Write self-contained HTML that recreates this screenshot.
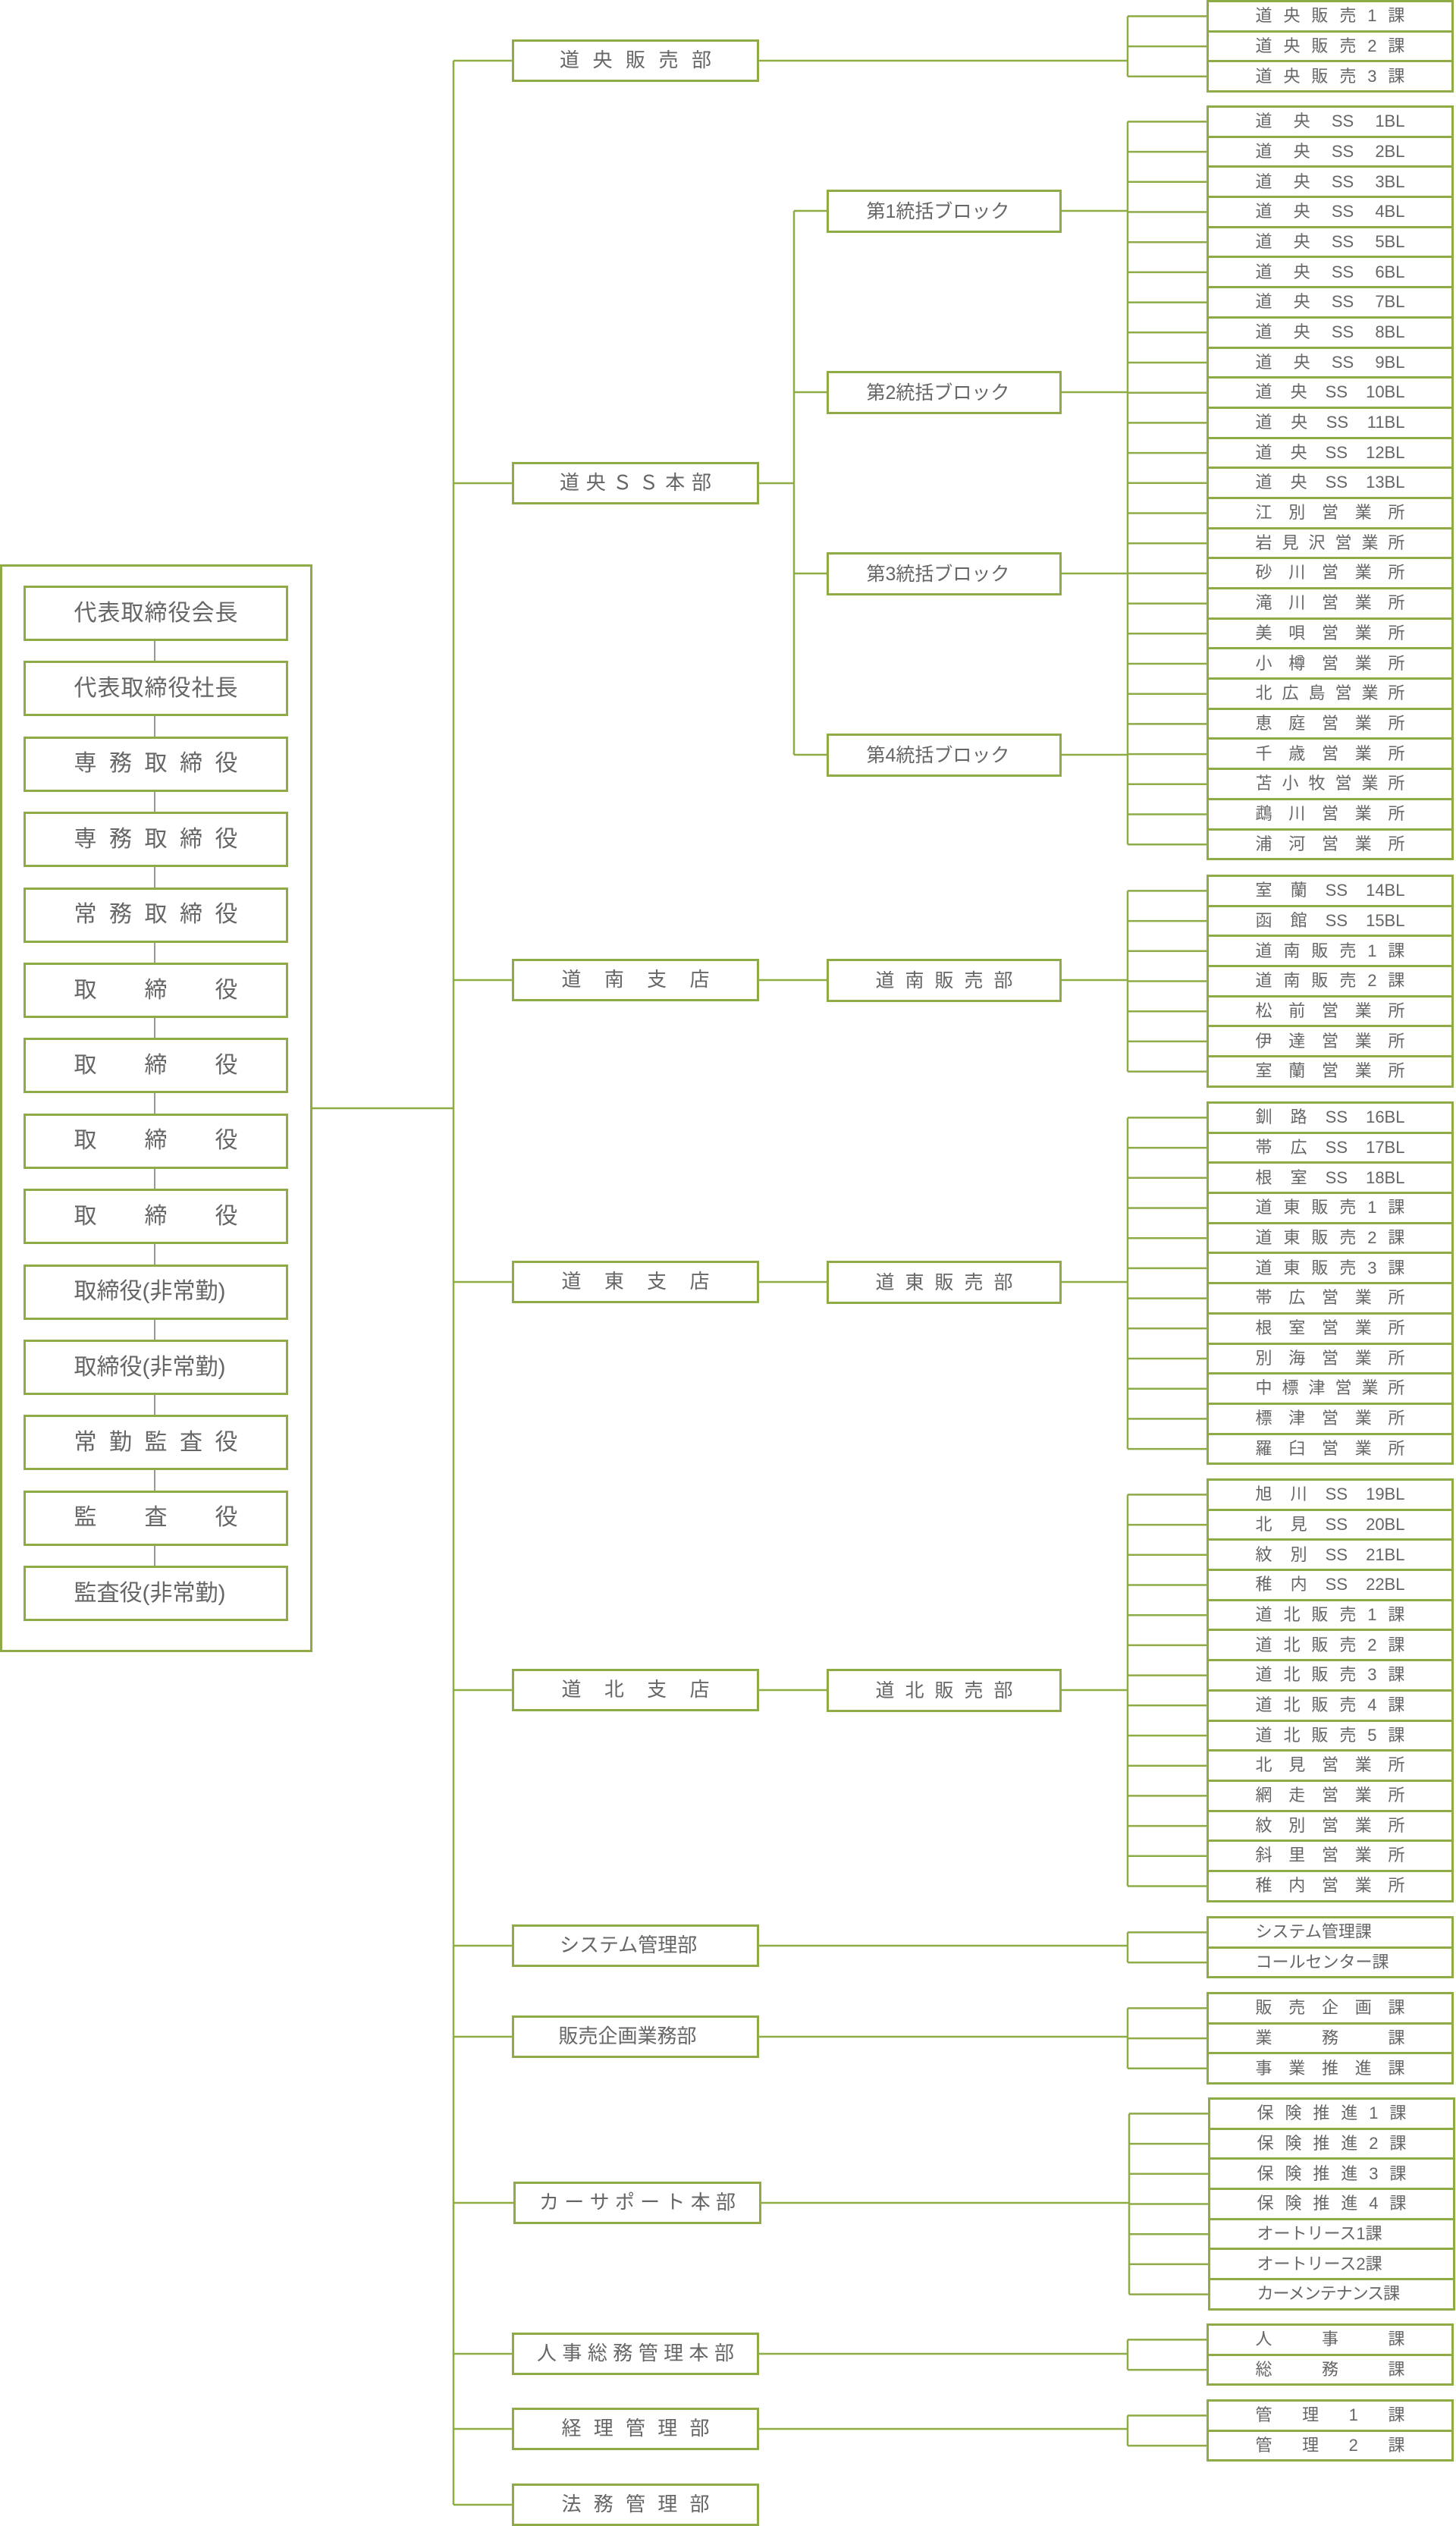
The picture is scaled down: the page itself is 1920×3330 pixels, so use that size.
<!DOCTYPE html>
<html><head><meta charset="utf-8"><style>
*{margin:0;padding:0;box-sizing:border-box}
html,body{width:1920px;height:3330px;background:#fff;overflow:hidden}
body{position:relative;font-family:"Liberation Sans","Noto Sans CJK JP",sans-serif;color:#666}
.b{position:absolute;border:3px solid #8eab46;background:#fff;display:flex;align-items:center;justify-content:center}
.t{display:flex;justify-content:space-between;align-items:baseline;white-space:nowrap;line-height:1.2}
.k{left:31px;width:349px;height:73px;font-size:30px}
.k .t{width:216px}
.l1{left:675px;width:326px;height:56px;font-size:26px}
.l2{left:1090px;width:310px;height:57px;font-size:25px}
.g{position:absolute;left:1591px;width:326px;font-size:22px}
.g>div{height:42.7px;border:3px solid #8eab46;background:#fff;display:flex;align-items:center;justify-content:center;margin-top:-3px}
.g>div:first-child{margin-top:0}
.g .t{width:197px}
svg{position:absolute;left:0;top:0}
</style></head><body>
<svg width="1920" height="3330">
<g stroke="#8eab46" stroke-width="2.5" fill="none">
<rect x="1.5" y="745.5" width="409" height="1431" stroke-width="3"/>
<path d="M598 80V3302M412 1461H598"/>
<path d="M598 80H675M598 637H675M598 1292H675M598 1690H675M598 2228H675M598 2565H675M598 2685H675M598 2904H677M598 3103H675M598 3202H675M598 3302H675"/>
<path d="M1001 637H1047M1047 278V995M1047 278H1090M1047 517H1090M1047 756H1090M1047 995H1090"/>
<path d="M1001 1292H1090M1001 1690H1090M1001 2228H1090"/>
<path d="M1400 278H1487M1400 517H1487M1400 756H1487M1400 995H1487"/>
<path d="M1001 80H1487M1487 21.4V100.8M1487 21.4H1591M1487 61.1H1591M1487 100.8H1591"/>
<path d="M1487 160.4V1113.2M1487 160.4H1591M1487 200.1H1591M1487 239.8H1591M1487 279.5H1591M1487 319.2H1591M1487 358.9H1591M1487 398.6H1591M1487 438.3H1591M1487 478H1591M1487 517.7H1591M1487 557.4H1591M1487 597.1H1591M1487 636.8H1591M1487 676.5H1591M1487 716.2H1591M1487 755.9H1591M1487 795.6H1591M1487 835.3H1591M1487 875H1591M1487 914.7H1591M1487 954.4H1591M1487 994.1H1591M1487 1033.8H1591M1487 1073.5H1591M1487 1113.2H1591"/>
<path d="M1400 1292H1487M1487 1174.4V1412.6M1487 1174.4H1591M1487 1214.1H1591M1487 1253.8H1591M1487 1293.5H1591M1487 1333.2H1591M1487 1372.9H1591M1487 1412.6H1591"/>
<path d="M1400 1690H1487M1487 1473.4V1910.1M1487 1473.4H1591M1487 1513.1H1591M1487 1552.8H1591M1487 1592.5H1591M1487 1632.2H1591M1487 1671.9H1591M1487 1711.6H1591M1487 1751.3H1591M1487 1791H1591M1487 1830.7H1591M1487 1870.4H1591M1487 1910.1H1591"/>
<path d="M1400 2228H1487M1487 1970.4V2486.5M1487 1970.4H1591M1487 2010.1H1591M1487 2049.8H1591M1487 2089.5H1591M1487 2129.2H1591M1487 2168.9H1591M1487 2208.6H1591M1487 2248.3H1591M1487 2288H1591M1487 2327.7H1591M1487 2367.4H1591M1487 2407.1H1591M1487 2446.8H1591M1487 2486.5H1591"/>
<path d="M1001 2565H1487M1487 2547.4V2587.1M1487 2547.4H1591M1487 2587.1H1591"/>
<path d="M1001 2685H1487M1487 2647.4V2726.8M1487 2647.4H1591M1487 2687.1H1591M1487 2726.8H1591"/>
<path d="M1004 2904H1489M1489 2786.4V3024.6M1489 2786.4H1593M1489 2826.1H1593M1489 2865.8H1593M1489 2905.5H1593M1489 2945.2H1593M1489 2984.9H1593M1489 3024.6H1593"/>
<path d="M1001 3103H1487M1487 3084.4V3124.1M1487 3084.4H1591M1487 3124.1H1591"/>
<path d="M1001 3202H1487M1487 3184.4V3224.1M1487 3184.4H1591M1487 3224.1H1591"/>
</g>
<path d="M204 845V2064" stroke="#555" stroke-width="1.2"/>
</svg>

<div class="b k" style="top:772px"><div class="t"><span>代</span><span>表</span><span>取</span><span>締</span><span>役</span><span>会</span><span>長</span></div></div>
<div class="b k" style="top:871.4px"><div class="t"><span>代</span><span>表</span><span>取</span><span>締</span><span>役</span><span>社</span><span>長</span></div></div>
<div class="b k" style="top:970.8px"><div class="t"><span>専</span><span>務</span><span>取</span><span>締</span><span>役</span></div></div>
<div class="b k" style="top:1070.2px"><div class="t"><span>専</span><span>務</span><span>取</span><span>締</span><span>役</span></div></div>
<div class="b k" style="top:1169.6px"><div class="t"><span>常</span><span>務</span><span>取</span><span>締</span><span>役</span></div></div>
<div class="b k" style="top:1269px"><div class="t"><span>取</span><span>締</span><span>役</span></div></div>
<div class="b k" style="top:1368.4px"><div class="t"><span>取</span><span>締</span><span>役</span></div></div>
<div class="b k" style="top:1467.8px"><div class="t"><span>取</span><span>締</span><span>役</span></div></div>
<div class="b k" style="top:1567.2px"><div class="t"><span>取</span><span>締</span><span>役</span></div></div>
<div class="b k" style="top:1666.6px"><div class="t"><span>取締役(非常勤)</span></div></div>
<div class="b k" style="top:1766px"><div class="t"><span>取締役(非常勤)</span></div></div>
<div class="b k" style="top:1865.4px"><div class="t"><span>常</span><span>勤</span><span>監</span><span>査</span><span>役</span></div></div>
<div class="b k" style="top:1964.8px"><div class="t"><span>監</span><span>査</span><span>役</span></div></div>
<div class="b k" style="top:2064.2px"><div class="t"><span>監査役(非常勤)</span></div></div>

<div class="b l1" style="top:52px"><div class="t" style="width:200px"><span>道</span><span>央</span><span>販</span><span>売</span><span>部</span></div></div>
<div class="b l1" style="top:609px"><div class="t" style="width:200px"><span>道</span><span>央</span><span>Ｓ</span><span>Ｓ</span><span>本</span><span>部</span></div></div>
<div class="b l1" style="top:1264px"><div class="t" style="width:195px"><span>道</span><span>南</span><span>支</span><span>店</span></div></div>
<div class="b l1" style="top:1662px"><div class="t" style="width:195px"><span>道</span><span>東</span><span>支</span><span>店</span></div></div>
<div class="b l1" style="top:2200px"><div class="t" style="width:195px"><span>道</span><span>北</span><span>支</span><span>店</span></div></div>
<div class="b l1" style="top:2537px"><div class="t" style="width:200px"><span>システム管理部</span></div></div>
<div class="b l1" style="top:2657px"><div class="t" style="width:203px"><span>販売企画業務部</span></div></div>
<div class="b l1" style="top:2876px;left:677px;width:327px"><div class="t" style="width:259px"><span>カ</span><span>ー</span><span>サ</span><span>ポ</span><span>ー</span><span>ト</span><span>本</span><span>部</span></div></div>
<div class="b l1" style="top:3075px"><div class="t" style="width:260px"><span>人</span><span>事</span><span>総</span><span>務</span><span>管</span><span>理</span><span>本</span><span>部</span></div></div>
<div class="b l1" style="top:3174px"><div class="t" style="width:195px"><span>経</span><span>理</span><span>管</span><span>理</span><span>部</span></div></div>
<div class="b l1" style="top:3274px"><div class="t" style="width:195px"><span>法</span><span>務</span><span>管</span><span>理</span><span>部</span></div></div>

<div class="b l2" style="top:250px"><div class="t" style="width:205px"><span>第1統括ブロック</span></div></div>
<div class="b l2" style="top:489px"><div class="t" style="width:205px"><span>第2統括ブロック</span></div></div>
<div class="b l2" style="top:728px"><div class="t" style="width:205px"><span>第3統括ブロック</span></div></div>
<div class="b l2" style="top:967px"><div class="t" style="width:205px"><span>第4統括ブロック</span></div></div>
<div class="b l2" style="top:1264px"><div class="t" style="width:181px"><span>道</span><span>南</span><span>販</span><span>売</span><span>部</span></div></div>
<div class="b l2" style="top:1662px"><div class="t" style="width:181px"><span>道</span><span>東</span><span>販</span><span>売</span><span>部</span></div></div>
<div class="b l2" style="top:2200px"><div class="t" style="width:181px"><span>道</span><span>北</span><span>販</span><span>売</span><span>部</span></div></div>

<div class="g" style="top:0"><div><div class="t"><span>道</span><span>央</span><span>販</span><span>売</span><span>1</span><span>課</span></div></div><div><div class="t"><span>道</span><span>央</span><span>販</span><span>売</span><span>2</span><span>課</span></div></div><div><div class="t"><span>道</span><span>央</span><span>販</span><span>売</span><span>3</span><span>課</span></div></div></div>

<div class="g" style="top:139px">
<div><div class="t"><span>道</span><span>央</span><span>SS</span><span>1BL</span></div></div>
<div><div class="t"><span>道</span><span>央</span><span>SS</span><span>2BL</span></div></div>
<div><div class="t"><span>道</span><span>央</span><span>SS</span><span>3BL</span></div></div>
<div><div class="t"><span>道</span><span>央</span><span>SS</span><span>4BL</span></div></div>
<div><div class="t"><span>道</span><span>央</span><span>SS</span><span>5BL</span></div></div>
<div><div class="t"><span>道</span><span>央</span><span>SS</span><span>6BL</span></div></div>
<div><div class="t"><span>道</span><span>央</span><span>SS</span><span>7BL</span></div></div>
<div><div class="t"><span>道</span><span>央</span><span>SS</span><span>8BL</span></div></div>
<div><div class="t"><span>道</span><span>央</span><span>SS</span><span>9BL</span></div></div>
<div><div class="t"><span>道</span><span>央</span><span>SS</span><span>10BL</span></div></div>
<div><div class="t"><span>道</span><span>央</span><span>SS</span><span>11BL</span></div></div>
<div><div class="t"><span>道</span><span>央</span><span>SS</span><span>12BL</span></div></div>
<div><div class="t"><span>道</span><span>央</span><span>SS</span><span>13BL</span></div></div>
<div><div class="t"><span>江</span><span>別</span><span>営</span><span>業</span><span>所</span></div></div>
<div><div class="t"><span>岩</span><span>見</span><span>沢</span><span>営</span><span>業</span><span>所</span></div></div>
<div><div class="t"><span>砂</span><span>川</span><span>営</span><span>業</span><span>所</span></div></div>
<div><div class="t"><span>滝</span><span>川</span><span>営</span><span>業</span><span>所</span></div></div>
<div><div class="t"><span>美</span><span>唄</span><span>営</span><span>業</span><span>所</span></div></div>
<div><div class="t"><span>小</span><span>樽</span><span>営</span><span>業</span><span>所</span></div></div>
<div><div class="t"><span>北</span><span>広</span><span>島</span><span>営</span><span>業</span><span>所</span></div></div>
<div><div class="t"><span>恵</span><span>庭</span><span>営</span><span>業</span><span>所</span></div></div>
<div><div class="t"><span>千</span><span>歳</span><span>営</span><span>業</span><span>所</span></div></div>
<div><div class="t"><span>苫</span><span>小</span><span>牧</span><span>営</span><span>業</span><span>所</span></div></div>
<div><div class="t"><span>鵡</span><span>川</span><span>営</span><span>業</span><span>所</span></div></div>
<div><div class="t"><span>浦</span><span>河</span><span>営</span><span>業</span><span>所</span></div></div>
</div>

<div class="g" style="top:1153px">
<div><div class="t"><span>室</span><span>蘭</span><span>SS</span><span>14BL</span></div></div>
<div><div class="t"><span>函</span><span>館</span><span>SS</span><span>15BL</span></div></div>
<div><div class="t"><span>道</span><span>南</span><span>販</span><span>売</span><span>1</span><span>課</span></div></div>
<div><div class="t"><span>道</span><span>南</span><span>販</span><span>売</span><span>2</span><span>課</span></div></div>
<div><div class="t"><span>松</span><span>前</span><span>営</span><span>業</span><span>所</span></div></div>
<div><div class="t"><span>伊</span><span>達</span><span>営</span><span>業</span><span>所</span></div></div>
<div><div class="t"><span>室</span><span>蘭</span><span>営</span><span>業</span><span>所</span></div></div>
</div>

<div class="g" style="top:1452px">
<div><div class="t"><span>釧</span><span>路</span><span>SS</span><span>16BL</span></div></div>
<div><div class="t"><span>帯</span><span>広</span><span>SS</span><span>17BL</span></div></div>
<div><div class="t"><span>根</span><span>室</span><span>SS</span><span>18BL</span></div></div>
<div><div class="t"><span>道</span><span>東</span><span>販</span><span>売</span><span>1</span><span>課</span></div></div>
<div><div class="t"><span>道</span><span>東</span><span>販</span><span>売</span><span>2</span><span>課</span></div></div>
<div><div class="t"><span>道</span><span>東</span><span>販</span><span>売</span><span>3</span><span>課</span></div></div>
<div><div class="t"><span>帯</span><span>広</span><span>営</span><span>業</span><span>所</span></div></div>
<div><div class="t"><span>根</span><span>室</span><span>営</span><span>業</span><span>所</span></div></div>
<div><div class="t"><span>別</span><span>海</span><span>営</span><span>業</span><span>所</span></div></div>
<div><div class="t"><span>中</span><span>標</span><span>津</span><span>営</span><span>業</span><span>所</span></div></div>
<div><div class="t"><span>標</span><span>津</span><span>営</span><span>業</span><span>所</span></div></div>
<div><div class="t"><span>羅</span><span>臼</span><span>営</span><span>業</span><span>所</span></div></div>
</div>

<div class="g" style="top:1949px">
<div><div class="t"><span>旭</span><span>川</span><span>SS</span><span>19BL</span></div></div>
<div><div class="t"><span>北</span><span>見</span><span>SS</span><span>20BL</span></div></div>
<div><div class="t"><span>紋</span><span>別</span><span>SS</span><span>21BL</span></div></div>
<div><div class="t"><span>稚</span><span>内</span><span>SS</span><span>22BL</span></div></div>
<div><div class="t"><span>道</span><span>北</span><span>販</span><span>売</span><span>1</span><span>課</span></div></div>
<div><div class="t"><span>道</span><span>北</span><span>販</span><span>売</span><span>2</span><span>課</span></div></div>
<div><div class="t"><span>道</span><span>北</span><span>販</span><span>売</span><span>3</span><span>課</span></div></div>
<div><div class="t"><span>道</span><span>北</span><span>販</span><span>売</span><span>4</span><span>課</span></div></div>
<div><div class="t"><span>道</span><span>北</span><span>販</span><span>売</span><span>5</span><span>課</span></div></div>
<div><div class="t"><span>北</span><span>見</span><span>営</span><span>業</span><span>所</span></div></div>
<div><div class="t"><span>網</span><span>走</span><span>営</span><span>業</span><span>所</span></div></div>
<div><div class="t"><span>紋</span><span>別</span><span>営</span><span>業</span><span>所</span></div></div>
<div><div class="t"><span>斜</span><span>里</span><span>営</span><span>業</span><span>所</span></div></div>
<div><div class="t"><span>稚</span><span>内</span><span>営</span><span>業</span><span>所</span></div></div>
</div>

<div class="g" style="top:2526px">
<div><div class="t"><span>システム管理課</span></div></div>
<div><div class="t"><span>コールセンター課</span></div></div>
</div>

<div class="g" style="top:2626px">
<div><div class="t"><span>販</span><span>売</span><span>企</span><span>画</span><span>課</span></div></div>
<div><div class="t"><span>業</span><span>務</span><span>課</span></div></div>
<div><div class="t"><span>事</span><span>業</span><span>推</span><span>進</span><span>課</span></div></div>
</div>

<div class="g" style="top:2765px;left:1593px">
<div><div class="t"><span>保</span><span>険</span><span>推</span><span>進</span><span>1</span><span>課</span></div></div>
<div><div class="t"><span>保</span><span>険</span><span>推</span><span>進</span><span>2</span><span>課</span></div></div>
<div><div class="t"><span>保</span><span>険</span><span>推</span><span>進</span><span>3</span><span>課</span></div></div>
<div><div class="t"><span>保</span><span>険</span><span>推</span><span>進</span><span>4</span><span>課</span></div></div>
<div><div class="t"><span>オートリース1課</span></div></div>
<div><div class="t"><span>オートリース2課</span></div></div>
<div><div class="t"><span style="letter-spacing:-1px">カーメンテナンス課</span></div></div>
</div>

<div class="g" style="top:3063px">
<div><div class="t"><span>人</span><span>事</span><span>課</span></div></div>
<div><div class="t"><span>総</span><span>務</span><span>課</span></div></div>
</div>

<div class="g" style="top:3163px">
<div><div class="t"><span>管</span><span>理</span><span>1</span><span>課</span></div></div>
<div><div class="t"><span>管</span><span>理</span><span>2</span><span>課</span></div></div>
</div>
</body></html>
